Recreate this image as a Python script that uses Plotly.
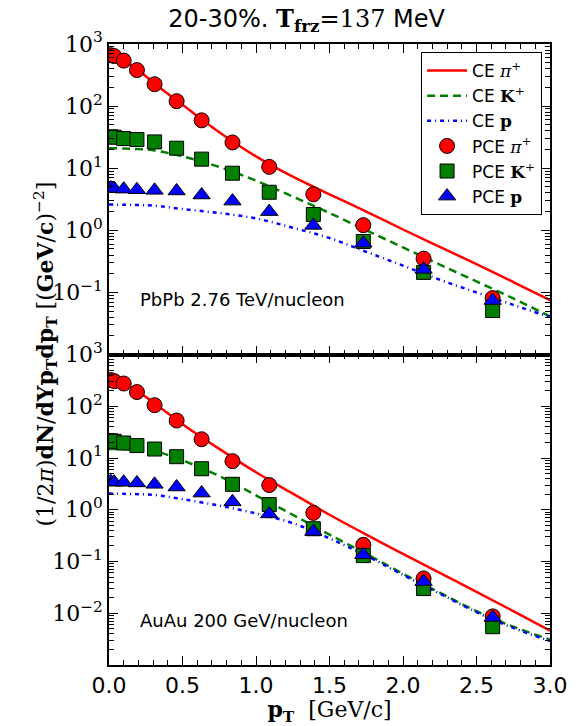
import plotly.graph_objects as go
from plotly.subplots import make_subplots

# ---------------- data ----------------
pt_pts = [0.012, 0.035, 0.10, 0.19, 0.31, 0.46, 0.63, 0.84, 1.09, 1.39, 1.73, 2.14, 2.61]

# PbPb 2.76 TeV (top panel)
pb_pce_pi = [660, 640, 540, 380, 225, 120, 59, 26, 10.5, 3.8, 1.21, 0.35, 0.081]
pb_pce_k = [32, 31.6, 30, 29, 26.5, 21, 14, 8.3, 4.1, 1.8, 0.66, 0.21, 0.051]
pb_pce_p = [4.8, 4.7, 4.6, 4.5, 4.4, 4.3, 3.7, 2.95, 2.0, 1.2, 0.62, 0.235, 0.074]

pt_line = [0.0, 0.1, 0.2, 0.3, 0.5, 0.75, 1.0, 1.25, 1.5, 1.75, 2.0, 2.25, 2.5, 2.75, 3.0]
pb_ce_pi = [700, 540, 380, 240, 105, 38, 15.5, 7.3, 3.8, 2.0, 1.03, 0.54, 0.285, 0.147, 0.075]
pb_ce_k = [21, 20.8, 20.3, 19.5, 15.5, 10.5, 6.3, 3.5, 1.9, 1.0, 0.53, 0.28, 0.15, 0.08, 0.041]
pb_ce_p = [2.6, 2.58, 2.55, 2.5, 2.2, 1.9, 1.55, 1.1, 0.75, 0.45, 0.27, 0.16, 0.1, 0.063, 0.04]

# AuAu 200 GeV (bottom panel)
au_pce_pi = [320, 306, 275, 188, 105, 53, 23, 8.7, 3.0, 0.87, 0.21, 0.047, 0.0087]
au_pce_k = [21.5, 21, 19.5, 17.4, 14.9, 10.6, 6.2, 3.1, 1.26, 0.43, 0.13, 0.030, 0.0055]
au_pce_p = [3.5, 3.4, 3.4, 3.3, 3.1, 2.75, 2.1, 1.42, 0.83, 0.38, 0.135, 0.041, 0.0083]

au_ce_pi = [330, 275, 190, 120, 45, 15, 5.3, 2.05, 0.8, 0.33, 0.14, 0.06, 0.026, 0.011, 0.0046]
au_ce_k = [15, 14.8, 14.4, 13.8, 9.0, 4.5, 1.9, 0.8, 0.33, 0.14, 0.058, 0.025, 0.011, 0.0055, 0.0031]
au_ce_p = [2.05, 2.03, 2.0, 1.95, 1.6, 1.2, 0.85, 0.55, 0.28, 0.13, 0.055, 0.024, 0.0105, 0.0052, 0.0029]

x_ticks = [0.0, 0.5, 1.0, 1.5, 2.0, 2.5, 3.0]
x_ticklabels = ["0.0", "0.5", "1.0", "1.5", "2.0", "2.5", "3.0"]
top_decades = [-2, -1, 0, 1, 2, 3]
bot_decades = [-3, -2, -1, 0, 1, 2, 3]
top_labels = ["", "10<sup>−1</sup>", "10<sup>0</sup>", "10<sup>1</sup>", "10<sup>2</sup>", "10<sup>3</sup>"]
bot_labels = ["", "10<sup>−2</sup>", "10<sup>−1</sup>", "10<sup>0</sup>", "10<sup>1</sup>", "10<sup>2</sup>", "10<sup>3</sup>"]

# ---------------- styling ----------------
RED = "#ff0000"
GREEN = "#007f00"
BLUE = "#0000ff"
SERIF = "DejaVu Serif"
SANS = "DejaVu Sans"

def m(s):
    return f'<span style="font-family:{SERIF}">{s}</span>'

names = [
    "CE " + m("<i>π</i><sup>+</sup>"),
    "CE " + m("<b>K</b><sup>+</sup>"),
    "CE " + m("<b>p</b>"),
    "PCE " + m("<i>π</i><sup>+</sup>"),
    "PCE " + m("<b>K</b><sup>+</sup>"),
    "PCE " + m("<b>p</b>"),
]

fig = make_subplots(rows=2, cols=1, shared_xaxes=True, vertical_spacing=0)

panels = [
    (1, pb_ce_pi, pb_ce_k, pb_ce_p, pb_pce_pi, pb_pce_k, pb_pce_p, True),
    (2, au_ce_pi, au_ce_k, au_ce_p, au_pce_pi, au_pce_k, au_pce_p, False),
]
for row, cpi, ck, cp, ppi, pk, pp, leg in panels:
    fig.add_trace(go.Scatter(x=pt_line, y=cpi, mode="lines", name=names[0], showlegend=leg,
                             line=dict(color=RED, width=2.5, shape="spline")), row=row, col=1)
    fig.add_trace(go.Scatter(x=pt_line, y=ck, mode="lines", name=names[1], showlegend=leg,
                             line=dict(color=GREEN, width=2.5, dash="8px,5px", shape="spline")), row=row, col=1)
    fig.add_trace(go.Scatter(x=pt_line, y=cp, mode="lines", name=names[2], showlegend=leg,
                             line=dict(color=BLUE, width=2.5, dash="4px,4px,1px,4px", shape="spline")), row=row, col=1)
    fig.add_trace(go.Scatter(x=pt_pts, y=ppi, mode="markers", name=names[3], showlegend=leg,
                             marker=dict(symbol="circle", size=15, color=RED, line=dict(color="black", width=1))),
                  row=row, col=1)
    fig.add_trace(go.Scatter(x=pt_pts, y=pk, mode="markers", name=names[4], showlegend=leg,
                             marker=dict(symbol="square", size=14, color=GREEN, line=dict(color="black", width=1))),
                  row=row, col=1)
    fig.add_trace(go.Scatter(x=pt_pts, y=pp, mode="markers", name=names[5], showlegend=leg,
                             marker=dict(symbol="triangle-up", size=15, color=BLUE, line=dict(color="black", width=1))),
                  row=row, col=1)

def minor_vals(decs):
    out = []
    for d in decs[:-1]:
        for k in range(2, 10):
            out.append(k * 10 ** d)
    return out

xaxis_common = dict(range=[0, 3], tickvals=x_ticks, ticktext=x_ticklabels, ticks="inside", ticklen=9,
                    tickwidth=1.3, tickcolor="black", showline=True, linecolor="black", linewidth=1.5,
                    mirror="allticks", showgrid=False, zeroline=False,
                    minor=dict(dtick=0.1, ticks="inside", ticklen=5, tickwidth=1, tickcolor="black", showgrid=False),
                    tickfont=dict(family=SANS, size=22, color="black"))
fig.update_xaxes(**xaxis_common, showticklabels=False, row=1, col=1)
fig.update_xaxes(**xaxis_common, showticklabels=True, row=2, col=1,
                 title=dict(text="<b>p</b><sub><b>T</b></sub>  [GeV/c]", font=dict(family=SERIF, size=22, color="black"),
                            standoff=0))

yaxis_common = dict(type="log", ticks="inside", ticklen=9, tickwidth=1.3, tickcolor="black", showline=True,
                    linecolor="black", linewidth=1.5, mirror="allticks", showgrid=False, zeroline=False,
                    tickfont=dict(family=SERIF, size=22, color="black"))
fig.update_yaxes(**yaxis_common, range=[-2, 3], tickvals=[10 ** d for d in top_decades], ticktext=top_labels,
                 minor=dict(tickvals=minor_vals(top_decades), ticks="inside", ticklen=5, tickwidth=1,
                            tickcolor="black", showgrid=False), row=1, col=1)
fig.update_yaxes(**yaxis_common, range=[-3, 3], tickvals=[10 ** d for d in bot_decades], ticktext=bot_labels,
                 minor=dict(tickvals=minor_vals(bot_decades), ticks="inside", ticklen=5, tickwidth=1,
                            tickcolor="black", showgrid=False), row=2, col=1)

fig.update_layout(
    width=584, height=726,
    margin=dict(l=109, r=34, t=44, b=59),
    paper_bgcolor="white", plot_bgcolor="white",
    showlegend=True,
    legend=dict(x=0.982, y=0.987, xanchor="right", yanchor="top", bgcolor="white",
                bordercolor="black", borderwidth=1, font=dict(family=SANS, size=17, color="black"),
                tracegroupgap=0, itemwidth=40),
    title=dict(text="20-30%. " + m("<b>T</b><sub><b>frz</b></sub>=137") + " MeV",
               x=0.525, xanchor="center", y=0.975, yanchor="middle",
               font=dict(family=SANS, size=24, color="black")),
    font=dict(family=SANS, color="black"),
)

fig.add_annotation(text="(1/2<i>π</i>)<b>dN</b>/<b>dYp</b><sub><b>T</b></sub><b>dp</b><sub><b>T</b></sub> [(<b>GeV</b>/<b>c</b>)<sup>−2</sup>]",
                   xref="paper", yref="paper", x=-0.145, y=0.5, xanchor="center", yanchor="middle",
                   textangle=-90, showarrow=False, font=dict(family=SERIF, size=22, color="black"))
fig.add_annotation(text="PbPb 2.76 TeV/nucleon", xref="x", yref="paper", x=0.2, y=0.589,
                   xanchor="left", yanchor="middle", showarrow=False, font=dict(family=SANS, size=18, color="black"))
fig.add_annotation(text="AuAu 200 GeV/nucleon", xref="x", yref="paper", x=0.2, y=0.071,
                   xanchor="left", yanchor="middle", showarrow=False, font=dict(family=SANS, size=18, color="black"))

fig.write_html("out.html")
